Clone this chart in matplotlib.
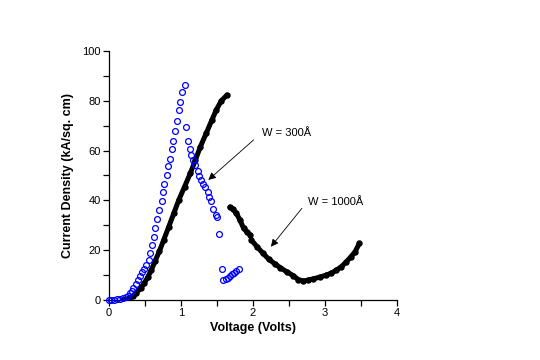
import matplotlib
matplotlib.use("Agg")
import matplotlib.pyplot as plt

plt.rcParams['font.family'] = ['Liberation Sans', 'DejaVu Sans']

# === Data ===
# W = 300 A (open blue circles)
v_300 = [0.00, 0.03, 0.07, 0.11, 0.15, 0.19, 0.23, 0.26, 0.29, 0.32, 0.34,
         0.37, 0.40, 0.43, 0.46, 0.49, 0.52, 0.55, 0.57, 0.60, 0.63, 0.64,
         0.67, 0.70, 0.73, 0.75, 0.77, 0.80, 0.82, 0.85, 0.88, 0.89, 0.92,
         0.95, 0.97, 0.99, 1.02, 1.05, 1.07, 1.10, 1.12, 1.14, 1.17, 1.20,
         1.23, 1.25, 1.28, 1.31, 1.34, 1.37, 1.39, 1.42, 1.45, 1.48, 1.50,
         1.53, 1.57, 1.59, 1.62, 1.65, 1.68, 1.71, 1.74, 1.77, 1.80]
j_300 = [0.0, 0.0, 0.1, 0.2, 0.3, 0.6, 1.0, 1.6, 2.7, 3.8, 4.9,
         6.4, 7.9, 9.5, 11.2, 12.6, 14.2, 16.0, 18.7, 22.0, 25.4, 28.8,
         32.4, 36.0, 39.6, 43.2, 46.5, 50.0, 53.7, 56.7, 60.5, 64.0, 68.0,
         72.0, 76.3, 79.6, 83.4, 86.3, 69.4, 64.0, 60.5, 58.1, 56.2, 54.2,
         51.9, 49.9, 48.2, 46.7, 45.3, 43.5, 41.5, 39.8, 36.4, 34.3, 33.5,
         26.5, 12.4, 8.0, 8.4, 9.0, 9.6, 10.3, 11.0, 11.7, 12.4]

# W = 1000 A (filled black circles), three segments
v_1000_a = [0.20, 0.28, 0.33, 0.38, 0.44, 0.49, 0.54, 0.59, 0.64, 0.70,
            0.76, 0.83, 0.90, 0.97, 1.05, 1.13, 1.20, 1.27, 1.35, 1.43,
            1.49, 1.56, 1.64]
j_1000_a = [0.0, 0.6, 1.5, 2.8, 4.8, 6.8, 9.2, 12.2, 15.6, 19.6,
            24.1, 29.4, 34.8, 40.2, 45.5, 50.9, 56.2, 61.6, 66.9, 72.3,
            76.3, 80.0, 82.3]
v_1000_b = [1.68, 1.72, 1.77, 1.82, 1.87, 1.92, 1.96]
j_1000_b = [37.3, 36.6, 34.8, 32.1, 28.8, 27.2, 26.2]
v_1000_c = [1.98, 2.06, 2.14, 2.22, 2.30, 2.38, 2.47, 2.56, 2.63, 2.70,
            2.77, 2.84, 2.93, 3.02, 3.09, 3.16, 3.23, 3.30, 3.36, 3.42, 3.48]
j_1000_c = [24.0, 21.3, 18.7, 16.4, 14.6, 13.0, 11.3, 9.8, 8.2, 7.6,
            8.0, 8.5, 9.2, 10.0, 10.8, 12.0, 13.4, 15.4, 17.3, 19.4, 22.8]

# === Plot ===
fig = plt.figure(figsize=(5.4, 3.6), dpi=100)
ax = fig.add_axes([0.2019, 0.1667, 0.533, 0.6917])

for v, j in [(v_1000_a, j_1000_a), (v_1000_b, j_1000_b), (v_1000_c, j_1000_c)]:
    ax.plot(v, j, color='black', lw=3.6, solid_capstyle='round',
            marker='o', ms=3.6, mfc='black', mec='black', zorder=2)

ax.plot(v_300, j_300, linestyle='none', marker='o', ms=4.2, mfc='none',
        mec='#0000ff', mew=0.9, clip_on=False, zorder=3)

arrow = dict(arrowstyle='-|>', lw=0.6, color='black', mutation_scale=11,
             shrinkA=0, shrinkB=0)
ax.annotate('', xy=(1.38, 48.2), xytext=(2.01, 64.3), arrowprops=arrow)
ax.text(2.12, 67.0, 'W = 300Å', fontsize=8, va='center', ha='left')
ax.annotate('', xy=(2.25, 21.4), xytext=(2.68, 36.8), arrowprops=arrow)
ax.text(2.76, 39.5, 'W = 1000Å', fontsize=8, va='center', ha='left')

# === Formatting ===
ax.set_xlim(0, 4)
ax.set_ylim(0, 100)
ax.set_xticks([0, 1, 2, 3, 4])
ax.set_xticks([0.5, 1.5, 2.5, 3.5], minor=True)
ax.set_yticks([0, 20, 40, 60, 80, 100])
ax.set_yticks([10, 30, 50, 70, 90], minor=True)
ax.spines['top'].set_visible(False)
ax.spines['right'].set_visible(False)
for s in ['left', 'bottom']:
    ax.spines[s].set_linewidth(0.9)
ax.tick_params(which='both', direction='out', length=4, width=0.9,
               labelsize=8, pad=2)
ax.set_xlabel('Voltage (Volts)', fontsize=9, fontweight='bold', labelpad=3)
ax.set_ylabel('Current Density (kA/sq. cm)', fontsize=9, fontweight='bold',
              labelpad=6)

fig.savefig('out.png', dpi=100)
